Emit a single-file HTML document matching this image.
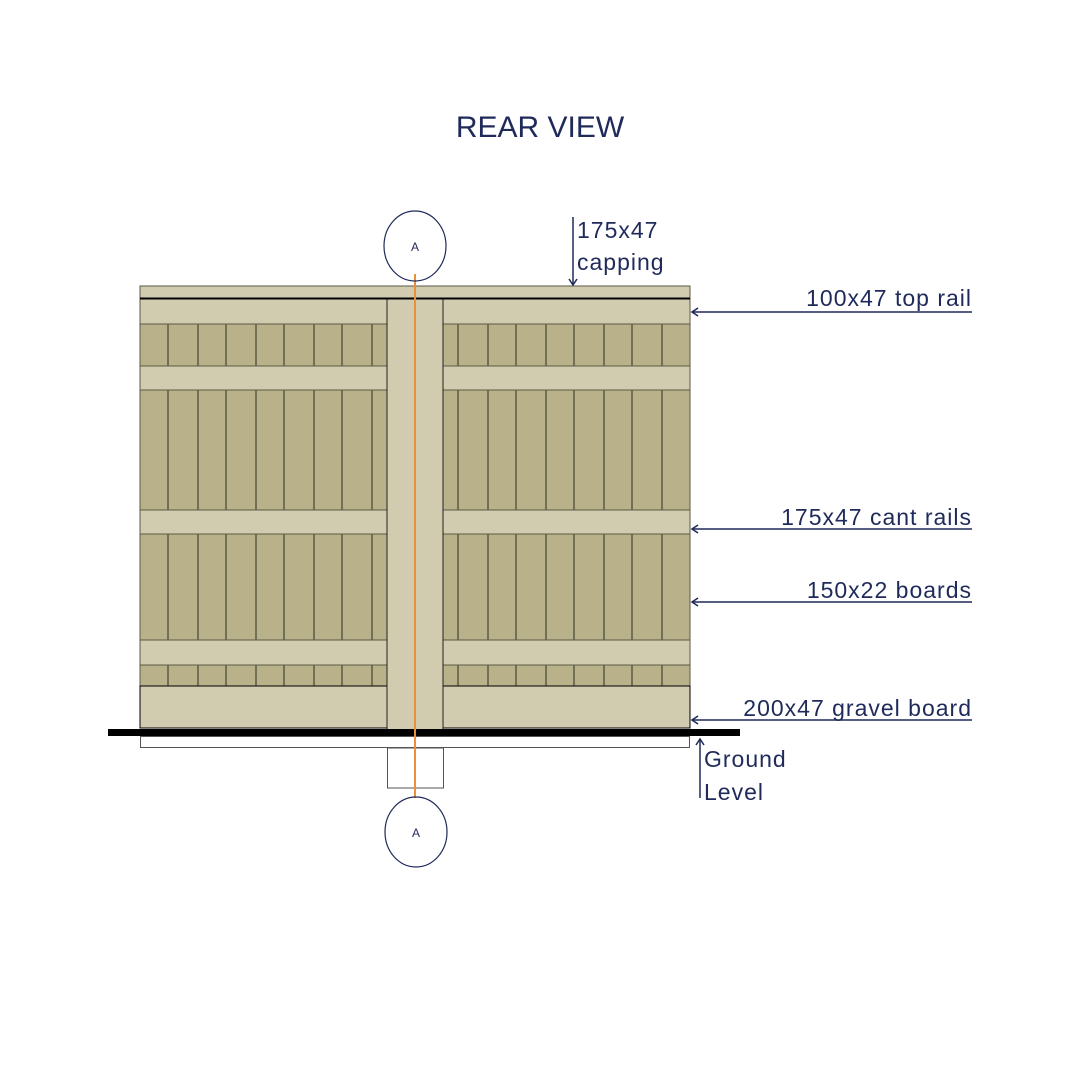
<!DOCTYPE html>
<html><head><style>body{margin:0;background:#fff}svg{display:block}</style></head><body>
<svg width="1080" height="1080" viewBox="0 0 1080 1080" xmlns="http://www.w3.org/2000/svg" font-family="Liberation Sans, sans-serif">
<rect width="1080" height="1080" fill="#fff"/>
<text x="540" y="137" text-anchor="middle" font-size="30" fill="#1f2a5a">REAR VIEW</text>
<rect x="140" y="298" width="550" height="430" fill="#b8b18a" stroke="#5a5a45" stroke-width="1"/>
<g stroke="#5a5a45" stroke-width="1.5">
<line x1="168" y1="298" x2="168" y2="728"/><line x1="198" y1="298" x2="198" y2="728"/>
<line x1="226" y1="298" x2="226" y2="728"/><line x1="256" y1="298" x2="256" y2="728"/>
<line x1="284" y1="298" x2="284" y2="728"/><line x1="314" y1="298" x2="314" y2="728"/>
<line x1="342" y1="298" x2="342" y2="728"/><line x1="372" y1="298" x2="372" y2="728"/>
<line x1="458" y1="298" x2="458" y2="728"/><line x1="488" y1="298" x2="488" y2="728"/>
<line x1="516" y1="298" x2="516" y2="728"/><line x1="546" y1="298" x2="546" y2="728"/>
<line x1="574" y1="298" x2="574" y2="728"/><line x1="604" y1="298" x2="604" y2="728"/>
<line x1="632" y1="298" x2="632" y2="728"/><line x1="662" y1="298" x2="662" y2="728"/>
</g>
<g fill="#d1ccb0" stroke="#5a5a45" stroke-width="1">
<rect x="140" y="286" width="550" height="12"/>
<rect x="140" y="299" width="550" height="25"/>
<rect x="140" y="366" width="550" height="24"/>
<rect x="140" y="510" width="550" height="24"/>
<rect x="140" y="640" width="550" height="25"/>
<rect x="140" y="686" width="550" height="42" stroke="#000"/>
<rect x="387" y="298" width="56" height="437" stroke="#222"/>
</g>
<line x1="140" y1="298.5" x2="690" y2="298.5" stroke="#000" stroke-width="2"/>
<rect x="108" y="729" width="632" height="7" fill="#000"/>
<rect x="140.5" y="736.5" width="549" height="11" fill="none" stroke="#555" stroke-width="1"/>
<rect x="387.5" y="748" width="56" height="40" fill="none" stroke="#555" stroke-width="1"/>
<line x1="415" y1="274" x2="415" y2="798" stroke="#e8913a" stroke-width="2"/>
<ellipse cx="415" cy="246" rx="31" ry="35" fill="none" stroke="#1f2a5a" stroke-width="1.2"/>
<text x="415" y="251" text-anchor="middle" font-size="12" fill="#1f2a5a">A</text>
<ellipse cx="416" cy="832" rx="31" ry="35" fill="none" stroke="#1f2a5a" stroke-width="1.2"/>
<text x="416" y="837" text-anchor="middle" font-size="12" fill="#1f2a5a">A</text>
<g stroke="#1f2a5a" stroke-width="1.5" fill="none">
<line x1="573" y1="217" x2="573" y2="285"/><path d="M569 279 L573 285 L577 279"/>
<line x1="692" y1="312" x2="972" y2="312"/><path d="M698 308 L692 312 L698 316"/>
<line x1="692" y1="529" x2="972" y2="529"/><path d="M698 525 L692 529 L698 533"/>
<line x1="692" y1="602" x2="972" y2="602"/><path d="M698 598 L692 602 L698 606"/>
<line x1="692" y1="720" x2="972" y2="720"/><path d="M698 716 L692 720 L698 724"/>
<line x1="700" y1="739" x2="700" y2="798"/><path d="M696 745 L700 739 L704 745"/>
</g>
<g font-size="23" fill="#1f2a5a" letter-spacing="1">
<text x="577" y="238">175x47</text>
<text x="577" y="270">capping</text>
<text x="972" y="306" text-anchor="end">100x47 top rail</text>
<text x="972" y="525" text-anchor="end">175x47 cant rails</text>
<text x="972" y="598" text-anchor="end">150x22 boards</text>
<text x="972" y="716" text-anchor="end">200x47 gravel board</text>
<text x="704" y="767">Ground</text>
<text x="704" y="800">Level</text>
</g>
</svg>
</body></html>
